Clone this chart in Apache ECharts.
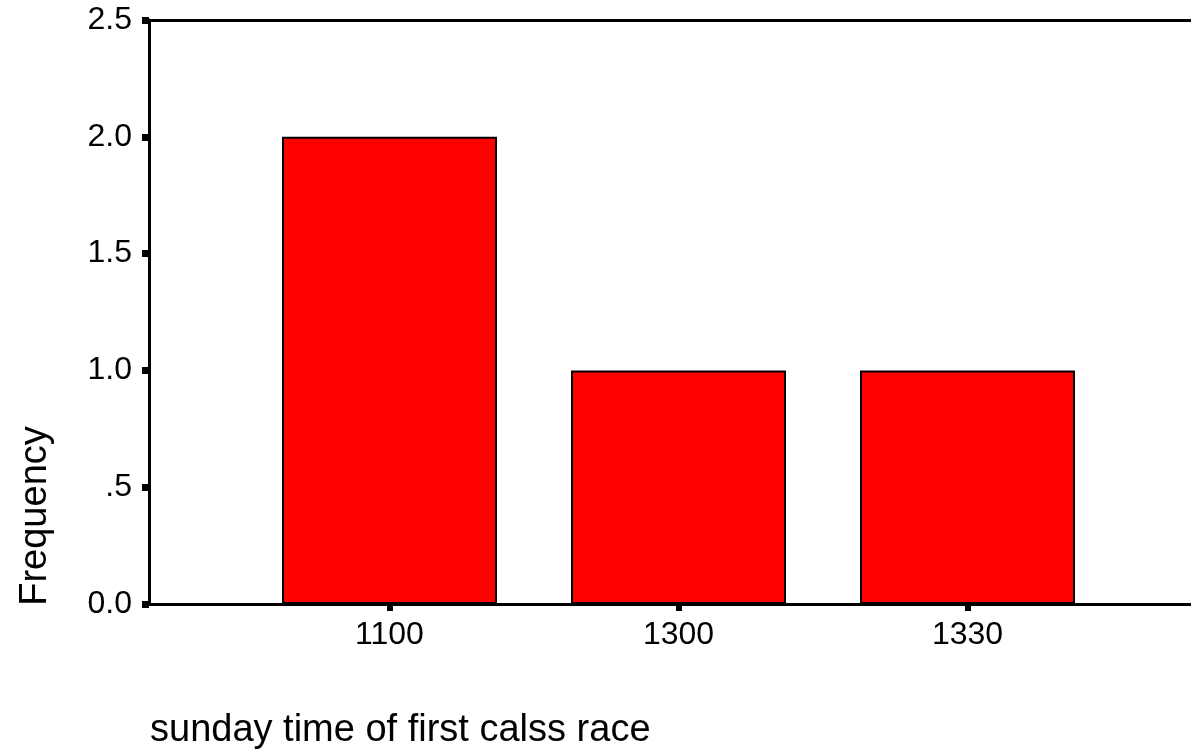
<!DOCTYPE html>
<html>
<head>
<meta charset="utf-8">
<script src="https://cdn.jsdelivr.net/npm/echarts@6/dist/echarts.min.js"></script>
<style>
  html, body { margin: 0; padding: 0; background: #fff; }
  #chart { width: 1191px; height: 750px; }
</style>
</head>
<body>
<div id="chart"></div>
<script>
  // data
  var categories = ['1100', '1300', '1330'];
  var frequency = [2, 1, 1];
  var yTickLabels = { '0': '0.0', '0.5': '.5', '1': '1.0', '1.5': '1.5', '2': '2.0', '2.5': '2.5' };
  var yTitle = 'Frequency';
  var xTitle = 'sunday time of first calss race';

  var font = 'Arial, "Liberation Sans", sans-serif';
  var chart = echarts.init(document.getElementById('chart'));

  chart.setOption({
    animation: false,
    backgroundColor: '#fff',
    title: {
      text: xTitle,
      left: 145,
      top: 707,
      textStyle: { fontFamily: font, fontSize: 38, fontWeight: 'normal', color: '#000' }
    },
    graphic: [{
      type: 'text',
      x: 36,
      y: 516,
      rotation: Math.PI / 2,
      style: {
        text: yTitle,
        fontFamily: font,
        fontSize: 38,
        fill: '#000',
        align: 'center',
        verticalAlign: 'middle'
      }
    }],
    grid: [
      // frame grid
      { left: 149, right: -30, top: 20, bottom: 146 },
      // bar grid
      { left: 245, right: 79, top: 20, bottom: 146 }
    ],
    xAxis: [
      {
        gridIndex: 0, type: 'value', min: 0, max: 1, position: 'bottom',
        axisLine: { show: true, lineStyle: { color: '#000', width: 3 } },
        axisTick: { show: false }, axisLabel: { show: false }, splitLine: { show: false }
      },
      {
        gridIndex: 0, type: 'value', min: 0, max: 1, position: 'top',
        axisLine: { show: true, onZero: false, lineStyle: { color: '#000', width: 3 } },
        axisTick: { show: false }, axisLabel: { show: false }, splitLine: { show: false }
      },
      {
        gridIndex: 1, type: 'category', data: categories,
        axisLine: { show: false },
        axisTick: { show: true, alignWithLabel: true, length: 7, lineStyle: { color: '#000', width: 6 } },
        axisLabel: { margin: 15, fontFamily: font, fontSize: 32, color: '#000' },
        splitLine: { show: false }
      }
    ],
    yAxis: [
      {
        gridIndex: 0, type: 'value', min: 0, max: 2.5, interval: 0.5,
        axisLine: { show: true, lineStyle: { color: '#000', width: 3 } },
        axisTick: { show: true, length: 7, lineStyle: { color: '#000', width: 7 } },
        axisLabel: {
          margin: 17, fontFamily: font, fontSize: 32, color: '#000',
          formatter: function (v) { return yTickLabels[String(v)]; }
        },
        splitLine: { show: false }
      },
      {
        gridIndex: 1, type: 'value', min: 0, max: 2.5, show: false
      }
    ],
    series: [{
      type: 'bar',
      xAxisIndex: 2,
      yAxisIndex: 1,
      data: frequency,
      barWidth: 215,
      itemStyle: { color: '#ff0000', borderColor: '#000', borderWidth: 2 }
    }]
  });
</script>
</body>
</html>
